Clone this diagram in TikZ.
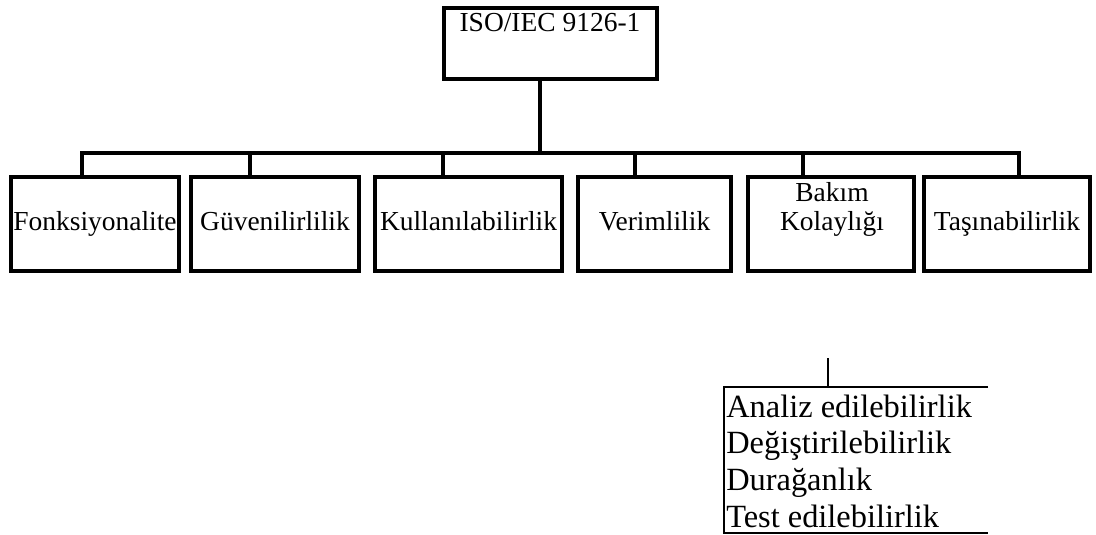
\documentclass[tikz,border=0pt]{standalone}
\usepackage{fontspec}
\setmainfont{Liberation Serif}
\begin{document}
\begin{tikzpicture}[x=0.75pt,y=-0.75pt,
  box/.style={draw=black,line width=3pt,minimum height=70.5pt,inner sep=0pt,outer sep=0pt},
  lbl/.style={anchor=base,inner sep=0pt,font=\fontsize{20.6pt}{22pt}\selectfont},
  item/.style={anchor=base west,inner sep=0pt,font=\fontsize{24.3pt}{27pt}\selectfont},
  conn/.style={line width=3pt,line join=miter,line cap=rect},
  thin/.style={line width=1.3pt}]
\useasboundingbox (0,0) rectangle (1096,535);

% root box
\node[box,minimum width=159.75pt,minimum height=53.25pt] (top) at (550.5,43.5) {};
\node[lbl] (toplbl) at (550,31.5) {ISO/IEC 9126-1};

% characteristic boxes
\node[box,minimum width=126pt]    (b1) at (95,224) {};
\node[box,minimum width=126pt]    (b2) at (275,224) {};
\node[box,minimum width=140.25pt] (b3) at (468.5,224) {};
\node[box,minimum width=114.75pt] (b4) at (654.5,224) {};
\node[box,minimum width=124.5pt]  (b5) at (831,224) {};
\node[box,minimum width=124.5pt]  (b6) at (1007,224) {};

\node[lbl] (t1) at (95,230) {Fonksiyonalite};
\node[lbl] (t2) at (275,230) {Güvenilirlilik};
\node[lbl] (t3) at (468.5,230) {Kullanılabilirlik};
\node[lbl] (t4) at (654.5,230) {Verimlilik};
\node[lbl] (t5a) at (832,201) {Bakım};
\node[lbl] (t5b) at (832,230) {Kolaylığı};
\node[lbl] (t6) at (1007,230) {Taşınabilirlik};

% tree connectors
\coordinate (stem) at (540,152.5);
\coordinate (j1) at (82,152.5);
\coordinate (j2) at (250,152.5);
\coordinate (j3) at (443,152.5);
\coordinate (j4) at (635,152.5);
\coordinate (j5) at (803,152.5);
\coordinate (j6) at (1019,152.5);

\draw[conn] (stem |- top.south) -- (stem);
\draw[conn,line cap=butt] (j1 |- b1.north) -- (j1) -- (j6) -- (j6 |- b6.north);
\draw[conn,line cap=butt] (j2) -- (j2 |- b2.north);
\draw[conn,line cap=butt] (j3) -- (j3 |- b3.north);
\draw[conn,line cap=butt] (j4) -- (j4 |- b4.north);
\draw[conn,line cap=butt] (j5) -- (j5 |- b5.north);

% sub-characteristics of maintainability
\coordinate (tickTop) at (828,358);
\coordinate (ltop) at (724,387);
\coordinate (rtop) at (988,387);
\coordinate (lbot) at (724,533);
\coordinate (rbot) at (988,533);
\draw[thin] (tickTop) -- (tickTop |- ltop);
\draw[thin,line join=miter] (rtop) -- (ltop) -- (lbot) -- (rbot);

\node[item] (s1) at (726,417) {Analiz edilebilirlik};
\node[item] (s2) at (726,453.7) {Değiştirilebilirlik};
\node[item] (s3) at (726,490.3) {Durağanlık};
\node[item] (s4) at (726,527) {Test edilebilirlik};
\end{tikzpicture}
\end{document}
